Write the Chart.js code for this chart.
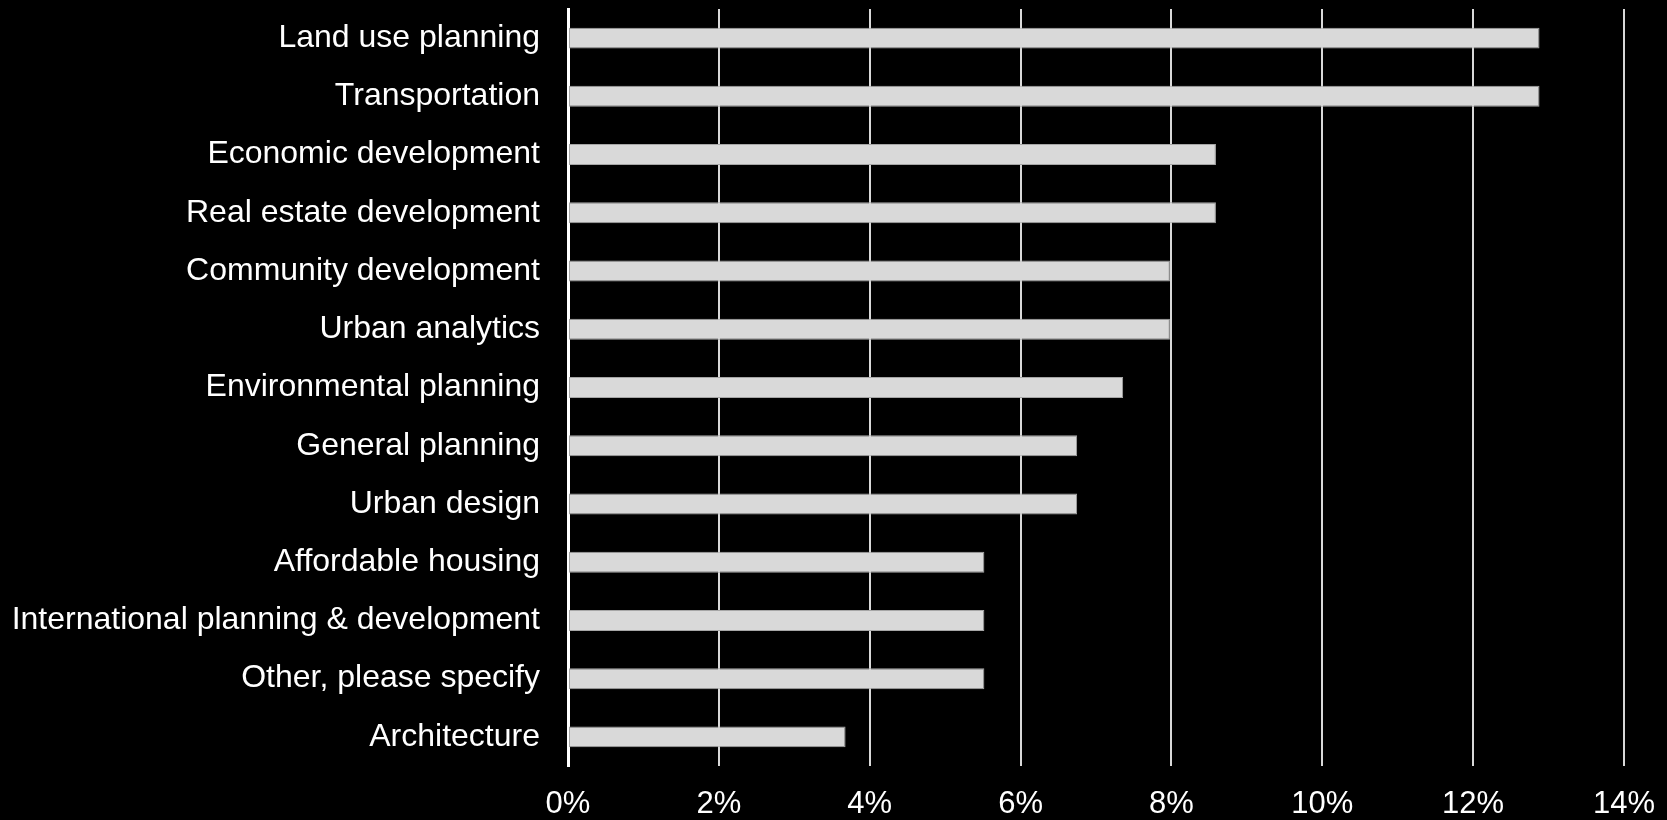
<!DOCTYPE html>
<html>
<head>
<meta charset="utf-8">
<script src="https://cdn.jsdelivr.net/npm/chart.js@4"></script>
<style>
  html, body { margin: 0; padding: 0; background: #000; }
  #wrap { width: 1667px; height: 820px; }
</style>
</head>
<body>
<div id="wrap"><canvas id="chart" width="1667" height="820"></canvas></div>
<script>
// Áreas de atuação (percentual de respostas)
const categorias = [
    'Land use planning',
    'Transportation',
    'Economic development',
    'Real estate development',
    'Community development',
    'Urban analytics',
    'Environmental planning',
    'General planning',
    'Urban design',
    'Affordable housing',
    'International planning & development',
    'Other, please specify',
    'Architecture'
];
const percentuais = [12.88, 12.88, 8.59, 8.59, 7.98, 7.98, 7.36, 6.75, 6.75, 5.52, 5.52, 5.52, 3.68];
const eixoX = { min: 0, max: 14, passo: 2 };

const fonte = 'Arial, "Liberation Sans", sans-serif';

const ctx = document.getElementById('chart').getContext('2d');
window.chartInstance = new Chart(ctx, {
    type: 'bar',
    data: {
        labels: categorias,
        datasets: [{
            data: percentuais,
            backgroundColor: '#d9d9d9',
            borderColor: '#a6a6a6',
            borderWidth: 1,
            borderSkipped: false,
            categoryPercentage: 1,
            barPercentage: 0.36
        }]
    },
    options: {
        indexAxis: 'y',
        responsive: false,
        devicePixelRatio: 1,
        animation: false,
        layout: { padding: { top: 9, right: 43, left: 0, bottom: 0 } },
        plugins: {
            legend: { display: false },
            tooltip: { enabled: false }
        },
        scales: {
            x: {
                min: eixoX.min,
                max: eixoX.max,
                ticks: {
                    stepSize: eixoX.passo,
                    color: '#ffffff',
                    font: { family: fonte, size: 31 },
                    padding: 20,
                    callback: v => v + '%'
                },
                grid: { color: '#d9d9d9', lineWidth: 2, drawTicks: false },
                border: { display: false },
                afterFit: s => {
                    s.height = 54;
                    s.paddingLeft = 0;
                    s.paddingRight = 0;
                }
            },
            y: {
                ticks: {
                    color: '#ffffff',
                    font: { family: fonte, size: 32 },
                    padding: 28,
                    autoSkip: false
                },
                grid: { display: false, drawTicks: false },
                border: { display: true, color: '#ffffff', width: 3 },
                afterFit: s => {
                    // tira o espaço extra que o Chart.js reserva p/ os rótulos
                    s.width = 568;
                    s.paddingTop = 0;
                    s.paddingBottom = 0;
                }
            }
        }
    }
});
</script>
</body>
</html>
